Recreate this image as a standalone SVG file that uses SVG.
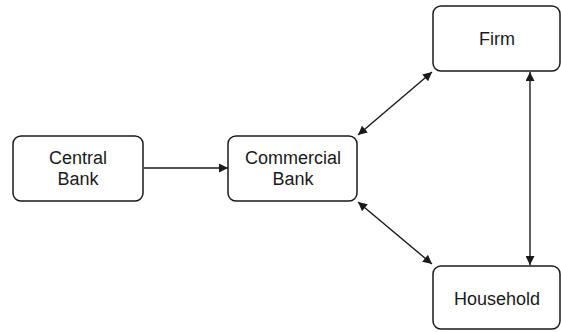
<svg xmlns="http://www.w3.org/2000/svg" width="561" height="332" viewBox="0 0 561 332">
<style>
.box{fill:#fff;stroke:#1a1a1a;stroke-width:1.5}
.lbl{font-family:"Liberation Sans",Arial,sans-serif;font-size:18px;fill:#1a1a1a;text-anchor:middle}
.con{stroke:#1a1a1a;stroke-width:1.4;fill:none}
</style>
<defs>
<marker id="ah" viewBox="0 0 10 10" refX="10" refY="5" markerWidth="10" markerHeight="9" markerUnits="userSpaceOnUse" orient="auto-start-reverse">
<path d="M0,0 L10,5 L0,10 z" fill="#1a1a1a"/>
</marker>
</defs>
<rect width="561" height="332" fill="#fff"/>
<g id="connectors">
<line class="con" x1="144" y1="168" x2="228" y2="168" marker-end="url(#ah)"/>
<line class="con" x1="358" y1="135" x2="432" y2="72" marker-start="url(#ah)" marker-end="url(#ah)"/>
<line class="con" x1="358" y1="202" x2="432" y2="264" marker-start="url(#ah)" marker-end="url(#ah)"/>
<line class="con" x1="530" y1="72" x2="530" y2="265" marker-start="url(#ah)" marker-end="url(#ah)"/>
</g>
<g id="central-bank">
<rect class="box" x="13" y="136" width="130" height="65" rx="8"/>
<text class="lbl" x="78" y="164">Central</text>
<text class="lbl" x="78" y="185">Bank</text>
</g>
<g id="commercial-bank">
<rect class="box" x="228" y="136" width="129" height="65" rx="8"/>
<text class="lbl" x="293" y="164">Commercial</text>
<text class="lbl" x="293" y="185">Bank</text>
</g>
<g id="firm">
<rect class="box" x="433" y="6" width="127" height="65" rx="8"/>
<text class="lbl" x="497" y="45">Firm</text>
</g>
<g id="household">
<rect class="box" x="433" y="266" width="127" height="63" rx="8"/>
<text class="lbl" x="497" y="305">Household</text>
</g>
</svg>
